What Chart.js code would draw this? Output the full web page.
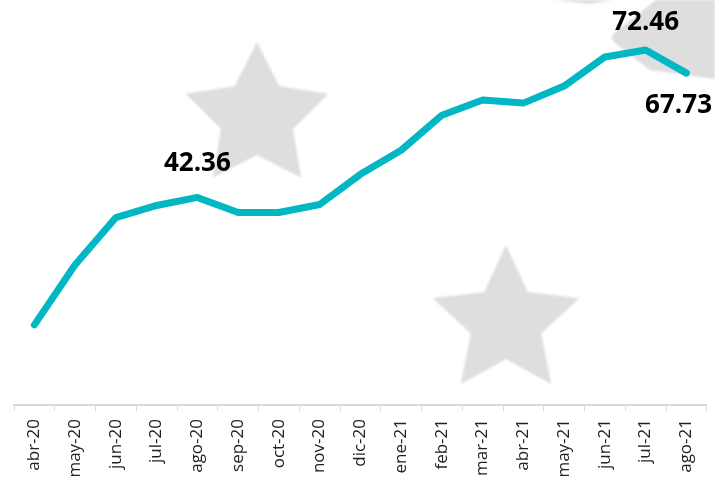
<!DOCTYPE html>
<html>
<head>
<meta charset="utf-8">
<script src="https://cdn.jsdelivr.net/npm/chart.js@4/dist/chart.umd.min.js"></script>
<style>
  html, body { margin: 0; padding: 0; background: #fff; }
  canvas { display: block; }
</style>
</head>
<body>
<canvas id="lineChart" width="715" height="478"></canvas>
<script>
// categories (months)
const months = [
  "abr-20", "may-20", "jun-20", "jul-20", "ago-20", "sep-20", "oct-20", "nov-20",
  "dic-20", "ene-21", "feb-21", "mar-21", "abr-21", "may-21", "jun-21", "jul-21", "ago-21"
];

// series values (only three are printed)
const values = [
  16.35, 28.64, 38.26, 40.72, 42.36, 39.29, 39.29, 40.93,
  47.07, 51.99, 59.15, 62.23, 61.61, 65.09, 71.03, 72.46, 67.73
];

// which points carry a printed value
const labelledPoints = [4, 15, 16];

// grey background stars (decoration only)
function drawStar(ctx, cx, cy, R, r) {
  ctx.beginPath();
  for (let i = 0; i < 10; i++) {
    const rad = i % 2 === 0 ? R : r;
    const a = -Math.PI / 2 + i * Math.PI / 5;
    const x = cx + rad * Math.cos(a);
    const y = cy + rad * Math.sin(a);
    if (i === 0) ctx.moveTo(x, y); else ctx.lineTo(x, y);
  }
  ctx.closePath();
  ctx.fill();
}

const backgroundStars = {
  id: "backgroundStars",
  beforeDatasetsDraw(chart) {
    const ctx = chart.ctx;
    ctx.save();
    ctx.fillStyle = "#dedede";
    ctx.filter = "blur(0.8px)";
    drawStar(ctx, 257, 117, 75, 38);
    drawStar(ctx, 506, 322, 77, 37);
    // partly visible star in the top right corner
    ctx.beginPath();
    ctx.moveTo(656, 0);
    ctx.lineTo(614, 33);
    ctx.quadraticCurveTo(609, 38, 616, 44);
    ctx.lineTo(650, 70);
    ctx.lineTo(715, 79);
    ctx.lineTo(715, 0);
    ctx.closePath();
    ctx.fill();
    ctx.beginPath();
    ctx.moveTo(553, 0);
    ctx.lineTo(613, 0);
    ctx.lineTo(590, 4);
    ctx.closePath();
    ctx.fill();
    ctx.restore();
  }
};

// printed values next to chosen points
const pointValues = {
  id: "pointValues",
  afterDatasetsDraw(chart, args, opts) {
    const ctx = chart.ctx;
    const meta = chart.getDatasetMeta(0);
    ctx.save();
    ctx.font = "bold 26px 'Open Sans'";
    ctx.fillStyle = "#000";
    ctx.textAlign = "center";
    ctx.textBaseline = "middle";
    labelledPoints.forEach(function (i) {
      const pt = meta.data[i];
      const text = values[i].toFixed(2);
      const w = ctx.measureText(text).width;
      let x = pt.x;
      if (x + w / 2 > chart.width - 3) x = chart.width - 3 - w / 2;
      const dy = opts.offsets[i] || -30;
      ctx.fillText(text, x, pt.y + dy);
    });
    ctx.restore();
  }
};

new Chart(document.getElementById("lineChart").getContext("2d"), {
  type: "line",
  data: {
    labels: months,
    datasets: [
      {
        data: values,
        borderColor: "#00b7c3",
        borderWidth: 7,
        borderCapStyle: "round",
        borderJoinStyle: "round",
        pointRadius: 0,
        tension: 0,
        fill: false,
      },
    ],
  },
  options: {
    responsive: false,
    animation: false,
    layout: { padding: { top: 13, left: 14, right: 7, bottom: 0 } },
    plugins: {
      legend: { display: false },
      tooltip: { enabled: false },
      pointValues: { offsets: { 4: -34, 15: -27, 16: 32 } },
    },
    scales: {
      x: {
        offset: true,
        grid: {
          offset: true,
          drawOnChartArea: false,
          drawTicks: true,
          tickLength: 6,
          color: "#d9d9d9",
          lineWidth: 1,
        },
        border: { display: true, color: "#d9d9d9", width: 2 },
        ticks: {
          minRotation: 90,
          maxRotation: 90,
          padding: 8,
          color: "#222",
          font: { family: "'Open Sans'", size: 17 },
        },
        afterFit(scale) {
          scale.height = 73;
        },
      },
      y: {
        display: false,
        min: 0,
        max: 80,
      },
    },
  },
  plugins: [backgroundStars, pointValues],
});
</script>
</body>
</html>
